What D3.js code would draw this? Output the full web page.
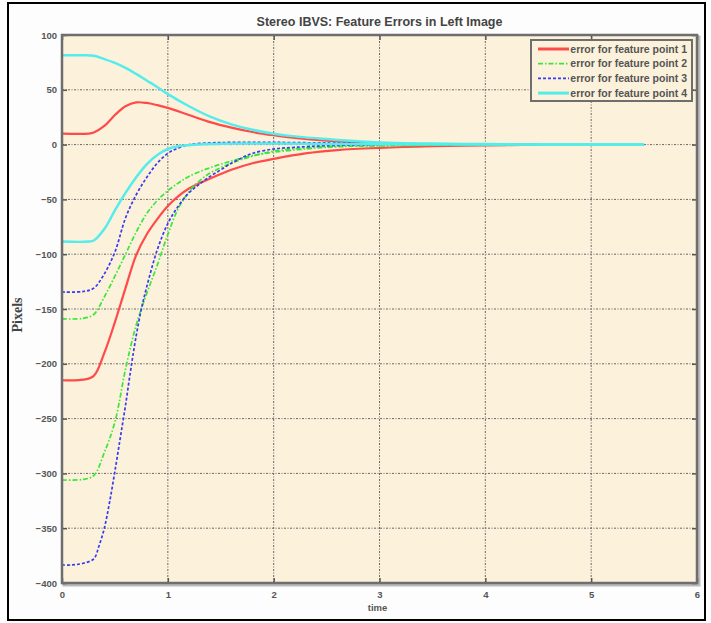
<!DOCTYPE html>
<html>
<head>
<meta charset="utf-8">
<script src="https://cdn.jsdelivr.net/npm/d3@7.9.0/dist/d3.min.js"></script>
<style>
  body { margin: 0; background: #fff; }
  svg { display: block; font-family: "Liberation Sans", Arial, sans-serif; }
</style>
</head>
<body>
<div id="chart"></div>
<script>
// tick values
const xTicks = [0, 1, 2, 3, 4, 5, 6];
const yTicks = [-400, -350, -300, -250, -200, -150, -100, -50, 0, 50, 100];

// feature point 1 (red)
const t1a = [0, 0.25, 0.3, 0.4, 0.5, 0.6, 0.7, 0.8, 0.9, 1.0, 1.2, 1.4, 1.6, 1.8, 2.0, 2.2, 2.5, 2.8, 3.0, 3.5, 4.0, 4.5];
const p1a = [10, 10, 11, 17, 27, 35, 38.5, 38, 36, 33.5, 27, 20.5, 15.5, 11.5, 8.5, 6, 3.5, 2, 1.2, 0.5, 0.2, 0];
const t1b = [0, 0.2, 0.3, 0.4, 0.5, 0.6, 0.7, 0.8, 0.9, 1.0, 1.1, 1.2, 1.4, 1.6, 1.8, 2.0, 2.3, 2.6, 3.0, 3.5, 4.0, 4.5];
const p1b = [-215, -214.5, -211, -190, -162, -131, -101, -82, -68, -56, -47, -40, -31, -23, -17, -13, -8, -5, -3, -1.5, -0.7, 0];

// feature point 2 (green)
const t2a = [0, 0.2, 0.3, 0.4, 0.5, 0.6, 0.7, 0.8, 0.9, 1.0, 1.1, 1.2, 1.4, 1.6, 1.8, 2.0, 2.3, 2.6, 3.0, 3.5, 4.0, 5.5];
const p2a = [-159, -158.5, -155, -139, -120, -100, -80, -63, -51, -42, -35, -29, -21, -15, -10, -7, -4, -2, -1, -0.5, -0.2, 0];
const t2b = [0, 0.2, 0.3, 0.4, 0.5, 0.6, 0.7, 0.8, 0.9, 1.0, 1.1, 1.2, 1.3, 1.4, 1.5, 1.6, 1.8, 2.0, 2.3, 2.6, 3.0, 4.0, 5.5];
const p2b = [-306, -305.5, -302, -281, -253, -205, -165, -136, -110, -82, -58, -43, -33, -26, -21, -17, -10.5, -6, -3, -1.5, -1, -0.3, 0];

// feature point 3 (blue)
const t3a = [0, 0.2, 0.3, 0.4, 0.5, 0.6, 0.7, 0.8, 0.9, 1.0, 1.1, 1.2, 1.4, 1.6, 2.0, 2.5, 3.0];
const p3a = [-134.5, -134, -131, -118, -98, -67, -46, -30, -17, -8, -3, 0, 1.5, 2, 2, 1.5, 1];
const t3b = [0, 0.1, 0.2, 0.3, 0.35, 0.4, 0.45, 0.5, 0.55, 0.6, 0.65, 0.7, 0.75, 0.8, 0.9, 1.0, 1.1, 1.2, 1.3, 1.4, 1.5, 1.6, 1.7, 1.8, 2.0, 2.2, 2.5, 3.0];
const p3b = [-383.5, -383.5, -382, -378, -366, -350, -326, -298, -268, -238, -205, -175, -150, -130, -96, -72, -56, -44, -36, -29, -23, -17, -12, -8, -4, -2.5, -1, 0];

// feature point 4 (cyan)
const t4a = [0, 0.2, 0.3, 0.4, 0.5, 0.6, 0.7, 0.8, 0.9, 1.0, 1.2, 1.4, 1.6, 1.8, 2.0, 2.2, 2.5, 2.8, 3.0, 3.5, 4.0, 4.5, 5.0, 5.5];
const p4a = [81.5, 81.5, 81, 78, 74.5, 70, 64.5, 58.5, 52.5, 46, 35, 25.5, 18.5, 13.5, 10, 7.5, 5, 3, 2, 1, 0.5, 0.2, 0.1, 0];
const t4b = [0, 0.25, 0.3, 0.4, 0.5, 0.6, 0.7, 0.8, 0.9, 1.0, 1.1, 1.2, 1.4, 1.7, 2.0, 2.5, 3.0, 4.0, 5.5];
const p4b = [-88.5, -88.5, -87.5, -77, -60, -44, -30, -18, -9.5, -4, -1.5, -0.5, 0.5, 1, 1, 0.6, 0.3, 0.1, 0];

const series = [
  { t: t1a, v: p1a, color: "#ff4a4a", width: 2.2, dash: null },
  { t: t1b, v: p1b, color: "#ff4a4a", width: 2.2, dash: null },
  { t: t2a, v: p2a, color: "#3ae63a", width: 1.7, dash: "5,2,1.5,2" },
  { t: t2b, v: p2b, color: "#3ae63a", width: 1.7, dash: "5,2,1.5,2" },
  { t: t3a, v: p3a, color: "#3a3aee", width: 1.7, dash: "3,2" },
  { t: t3b, v: p3b, color: "#3a3aee", width: 1.7, dash: "3,2" },
  { t: t4a, v: p4a, color: "#55ecec", width: 2.5, dash: null },
  { t: t4b, v: p4b, color: "#55ecec", width: 2.5, dash: null }
];

const legendItems = [
  { label: "error for feature point 1", color: "#ff4a4a", width: 3, dash: null },
  { label: "error for feature point 2", color: "#3ae63a", width: 1.7, dash: "5,2,1.5,2" },
  { label: "error for feature point 3", color: "#3a3aee", width: 1.7, dash: "3,2" },
  { label: "error for feature point 4", color: "#55ecec", width: 3, dash: null }
];

const W = 711, H = 623;
const plot = { left: 62, right: 697, top: 35, bottom: 583 };

const svg = d3.select("#chart").append("svg")
  .attr("width", W)
  .attr("height", H);

// outer frame
svg.append("rect")
  .attr("x", 8).attr("y", 3)
  .attr("width", 697).attr("height", 617)
  .attr("fill", "#fdfdfd")
  .attr("stroke", "#000")
  .attr("stroke-width", 2);

const x = d3.scaleLinear().domain([0, 6]).range([plot.left, plot.right]);
const y = d3.scaleLinear().domain([-400, 100]).range([plot.bottom, plot.top]);

// plot shadow + background
svg.append("rect")
  .attr("x", plot.left + 2).attr("y", plot.top + 2)
  .attr("width", plot.right - plot.left)
  .attr("height", plot.bottom - plot.top)
  .attr("fill", "none")
  .attr("stroke", "#bbb")
  .attr("stroke-width", 3);

svg.append("rect")
  .attr("x", plot.left).attr("y", plot.top)
  .attr("width", plot.right - plot.left)
  .attr("height", plot.bottom - plot.top)
  .attr("fill", "#fcf1da");

// grid
const grid = svg.append("g")
  .attr("stroke", "#666")
  .attr("stroke-width", 1)
  .attr("stroke-dasharray", "2,1.5,1,1.5");

grid.selectAll(".gx")
  .data(xTicks.slice(1, -1))
  .enter().append("line")
  .attr("x1", d => x(d)).attr("x2", d => x(d))
  .attr("y1", plot.top).attr("y2", plot.bottom);

grid.selectAll(".gy")
  .data(yTicks.slice(1, -1))
  .enter().append("line")
  .attr("x1", plot.left).attr("x2", plot.right)
  .attr("y1", d => y(d)).attr("y2", d => y(d));

// series lines
const line = d3.line()
  .x(d => x(d[0]))
  .y(d => y(d[1]))
  .curve(d3.curveCatmullRom.alpha(0.5));

svg.append("g").selectAll("path")
  .data(series)
  .enter().append("path")
  .attr("d", s => line(s.t.map((t, i) => [t, s.v[i]])))
  .attr("fill", "none")
  .attr("stroke", s => s.color)
  .attr("stroke-width", s => s.width)
  .attr("stroke-dasharray", s => s.dash)
  .attr("stroke-linejoin", "round");

// axes
svg.append("g")
  .attr("transform", `translate(0,${plot.bottom})`)
  .call(d3.axisBottom(x).tickValues(xTicks).tickSize(-5).tickPadding(8).tickFormat(d3.format("d")));

svg.append("g")
  .attr("transform", `translate(${plot.left},0)`)
  .call(d3.axisLeft(y).tickValues(yTicks).tickSize(-5).tickPadding(5).tickFormat(d3.format("d")));

svg.append("g")
  .attr("transform", `translate(0,${plot.top})`)
  .call(d3.axisTop(x).tickValues(xTicks).tickSize(-5).tickFormat(""));

svg.append("g")
  .attr("transform", `translate(${plot.right},0)`)
  .call(d3.axisRight(y).tickValues(yTicks).tickSize(-5).tickFormat(""));

svg.selectAll(".domain").remove();
svg.selectAll(".tick line").attr("stroke", "#555").attr("stroke-width", 1.5);
svg.selectAll(".tick text")
  .attr("fill", "#555")
  .attr("font-size", "9.5px")
  .attr("font-weight", "bold")
  .attr("font-family", "'Liberation Sans', Arial, sans-serif");

// plot border
svg.append("rect")
  .attr("x", plot.left).attr("y", plot.top)
  .attr("width", plot.right - plot.left)
  .attr("height", plot.bottom - plot.top)
  .attr("fill", "none")
  .attr("stroke", "#6e6e6e")
  .attr("stroke-width", 2.5);

// title and labels
svg.append("text")
  .attr("x", (plot.left + plot.right) / 2)
  .attr("y", 26)
  .attr("text-anchor", "middle")
  .attr("font-size", "12.5px")
  .attr("font-weight", "bold")
  .attr("fill", "#444")
  .text("Stereo IBVS: Feature Errors in Left Image");

svg.append("text")
  .attr("x", (plot.left + plot.right) / 2 - 2)
  .attr("y", 611)
  .attr("text-anchor", "middle")
  .attr("font-size", "9.5px")
  .attr("font-weight", "bold")
  .attr("fill", "#555")
  .text("time");

svg.append("text")
  .attr("transform", `translate(22,${(plot.top + plot.bottom) / 2 + 6}) rotate(-90)`)
  .attr("text-anchor", "middle")
  .attr("font-family", "'Liberation Serif', 'DejaVu Serif', serif")
  .attr("font-size", "14px")
  .attr("font-weight", "bold")
  .attr("fill", "#444")
  .text("Pixels");

// legend
const legend = svg.append("g").attr("transform", "translate(531,40)");

legend.append("rect")
  .attr("width", 161).attr("height", 61)
  .attr("fill", "#fcf1da")
  .attr("stroke", "#6e6e6e")
  .attr("stroke-width", 2);

legend.selectAll(".item")
  .data(legendItems)
  .enter().append("g")
  .attr("transform", (d, i) => `translate(0,${9 + i * 14.7})`)
  .each(function(d) {
    const g = d3.select(this);
    g.append("line")
      .attr("x1", 7).attr("x2", 38)
      .attr("stroke", d.color)
      .attr("stroke-width", d.width)
      .attr("stroke-dasharray", d.dash);
    g.append("text")
      .attr("x", 156)
      .attr("y", 3.5)
      .attr("text-anchor", "end")
      .attr("font-size", "10.5px")
      .attr("font-weight", "bold")
      .attr("fill", "#555")
      .text(d.label);
  });
</script>
</body>
</html>
